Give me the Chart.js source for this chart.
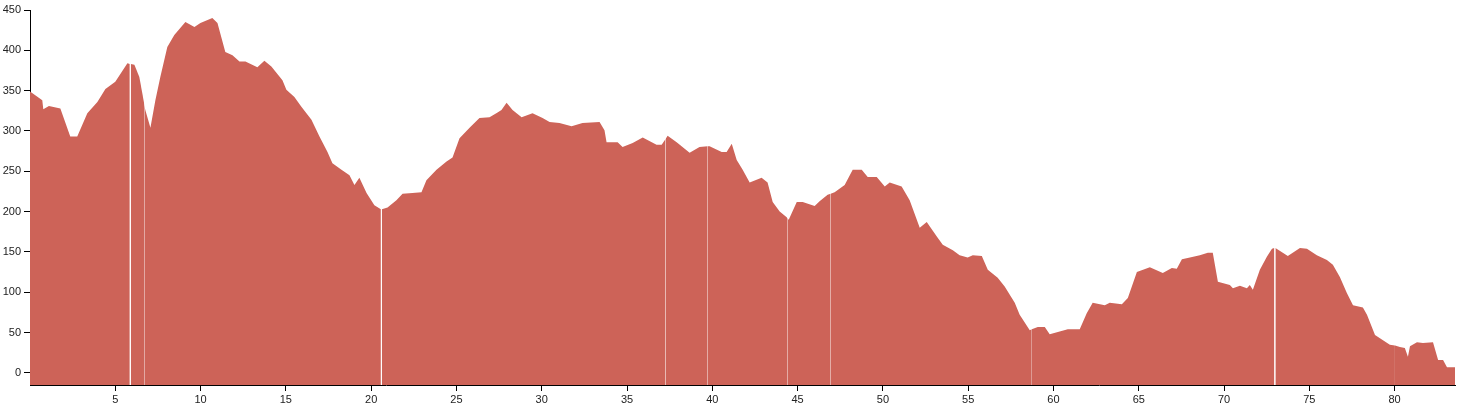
<!DOCTYPE html>
<html>
<head>
<meta charset="utf-8">
<script src="https://cdn.jsdelivr.net/npm/chart.js@4/dist/chart.umd.min.js"></script>
<style>
  html, body { margin: 0; padding: 0; background: #fff; }
  #wrap { width: 1458px; height: 409px; }
</style>
</head>
<body>
<div id="wrap"><canvas id="profile"></canvas></div>
<script>
// distance (km) and elevation (m)
var dist = [0, 0.72, 0.78, 1.11, 1.78, 2.36, 2.77, 3.36, 3.95, 4.42, 5.0, 5.71, 5.85,
  5.91, 6.12, 6.41, 6.70,
  6.76, 7.06, 7.35, 7.64, 8.05, 8.46, 9.11, 9.64, 9.99, 10.69, 10.99, 11.45, 11.87, 12.28, 12.63,
  13.33, 13.74, 14.15, 14.80, 15.03, 15.5, 15.91, 16.5, 16.97, 17.44, 17.73, 18.26, 18.73, 19.02,
  19.31, 19.73, 20.19, 20.57,
  20.63, 20.96, 21.48, 21.84, 22.42, 22.95, 23.24, 23.83, 24.42, 24.77, 25.18, 25.77, 26.35, 26.94,
  27.41, 27.64, 27.94, 28.29, 28.82, 29.46, 30.05, 30.46, 31.04, 31.75, 32.39, 33.39, 33.68, 33.80,
  34.45, 34.74, 35.33, 35.92, 36.73, 37.03, 37.26,
  37.38, 37.91, 38.67, 39.25, 39.73,
  39.84, 40.55, 40.84, 41.14, 41.43, 41.78, 42.19, 42.89, 43.24, 43.54, 43.95, 44.36, 44.42,
  44.48, 44.95, 45.30, 46.0, 46.29, 46.76, 46.94,
  47.17, 47.76, 48.23, 48.76, 49.11, 49.64, 50.11, 50.40, 51.1, 51.57, 52.16, 52.57, 53.16, 53.51,
  54.1, 54.50, 54.97, 55.27, 55.8, 56.15, 56.73, 57.14, 57.73, 58.02, 58.61, 58.73,
  59.08, 59.49, 59.78, 60.84, 61.54, 61.95, 62.3, 63.01, 63.3, 64.01, 64.36, 64.89, 65.65, 66.41,
  66.94, 67.23, 67.53, 68.0, 68.58, 69.05, 69.34, 69.64, 70.34, 70.52, 70.93, 71.34, 71.51, 71.69,
  72.10, 72.51, 72.81, 72.95,
  73.01, 73.74, 74.45, 74.86, 75.44, 76.03, 76.38, 76.79, 77.2, 77.56, 78.14, 78.38, 78.85, 79.14,
  79.72, 80.02,
  80.31, 80.6, 80.78, 80.9, 81.31, 81.66, 82.25, 82.55, 82.84, 83.07, 83.54];
var elev = [349, 338, 327, 331, 328, 293, 293, 322, 336, 352, 361, 384, 383,
  383, 382, 367, 333,
  326, 304, 338, 367, 404, 419, 435, 429, 434, 440, 434, 398, 394, 386, 386,
  379, 387, 380, 363, 351, 342, 330, 314, 293, 274, 260, 252, 245, 233,
  242, 223, 208, 203,
  203, 205, 214, 222, 223, 224, 239, 252, 262, 267, 291, 304, 316, 317,
  323, 326, 335, 326, 317, 322, 316, 311, 310, 306, 310, 311, 301, 286,
  286, 280, 285, 292, 283, 283, 290,
  294, 286, 273, 280, 281,
  281, 274, 274, 284, 264, 252, 236, 242, 236, 212, 200, 193, 191,
  190, 212, 212, 207, 213, 221, 222,
  224, 233, 252, 252, 243, 243, 231, 236, 231, 214, 180, 187, 169, 159,
  152, 146, 143, 146, 145, 128, 118, 107, 87, 72, 53, 54,
  57, 57, 48, 54, 54, 74, 87, 84, 87, 85, 93, 125, 131, 124,
  130, 129, 141, 143, 146, 149, 149, 113, 109, 105, 108, 105, 109, 103,
  128, 144, 154, 155,
  155, 145, 155, 154, 146, 140, 134, 119, 99, 84, 81, 72, 47, 43,
  35, 34,
  32, 31, 20, 33, 38, 37, 38, 16, 16, 7, 7];

// where one track segment ends and the next begins
var cuts = [5.85, 6.70, 20.57, 37.26, 39.73, 44.42, 46.94, 58.73, 72.95, 80.02];
// cuts followed by a small gap in the track
var gapCuts = [5.85, 20.57, 72.95];

var xTicks = [5, 10, 15, 20, 25, 30, 35, 40, 45, 50, 55, 60, 65, 70, 75, 80];
var yTicks = [0, 50, 100, 150, 200, 250, 300, 350, 400, 450];

var fillColor = '#cd6358';

// split the track into segments
var segments = [];
var cur = [];
for (var i = 0; i < dist.length; i++) {
  var p = { x: dist[i], y: elev[i] };
  cur.push(p);
  if (cuts.indexOf(dist[i]) !== -1) {
    segments.push(cur);
    cur = gapCuts.indexOf(dist[i]) !== -1 ? [] : [p];
  }
}
segments.push(cur);

var datasets = segments.map(function (seg) {
  return {
    data: seg,
    backgroundColor: fillColor,
    borderWidth: 0,
    pointRadius: 0,
    fill: 'start',
    tension: 0
  };
});

var ctx = document.getElementById('profile').getContext('2d');
var chart = new Chart(ctx, {
  type: 'line',
  data: { datasets: datasets },
  options: {
    responsive: true,
    maintainAspectRatio: false,
    animation: false,
    layout: { padding: { top: 10, right: 3, left: 0, bottom: 0 } },
    plugins: { legend: { display: false }, tooltip: { enabled: false } },
    scales: {
      x: {
        type: 'linear',
        min: 0,
        max: 83.54,
        afterBuildTicks: function (scale) {
          scale.ticks = xTicks.map(function (v) { return { value: v }; });
        },
        afterFit: function (scale) { scale.height = 24; },
        grid: { drawOnChartArea: false, tickLength: 6, color: '#000' },
        border: { color: '#000', width: 1 },
        ticks: { color: '#222', font: { family: 'Liberation Sans, Arial', size: 11 }, padding: 2, maxRotation: 0 }
      },
      y: {
        type: 'linear',
        min: -15,
        max: 450,
        afterBuildTicks: function (scale) {
          scale.ticks = yTicks.map(function (v) { return { value: v }; });
        },
        afterFit: function (scale) { scale.width = 30; },
        grid: { drawOnChartArea: false, tickLength: 6, color: '#000' },
        border: { color: '#000', width: 1 },
        ticks: { color: '#222', font: { family: 'Liberation Sans, Arial', size: 11 }, padding: 3 }
      }
    }
  }
});
</script>
</body>
</html>
